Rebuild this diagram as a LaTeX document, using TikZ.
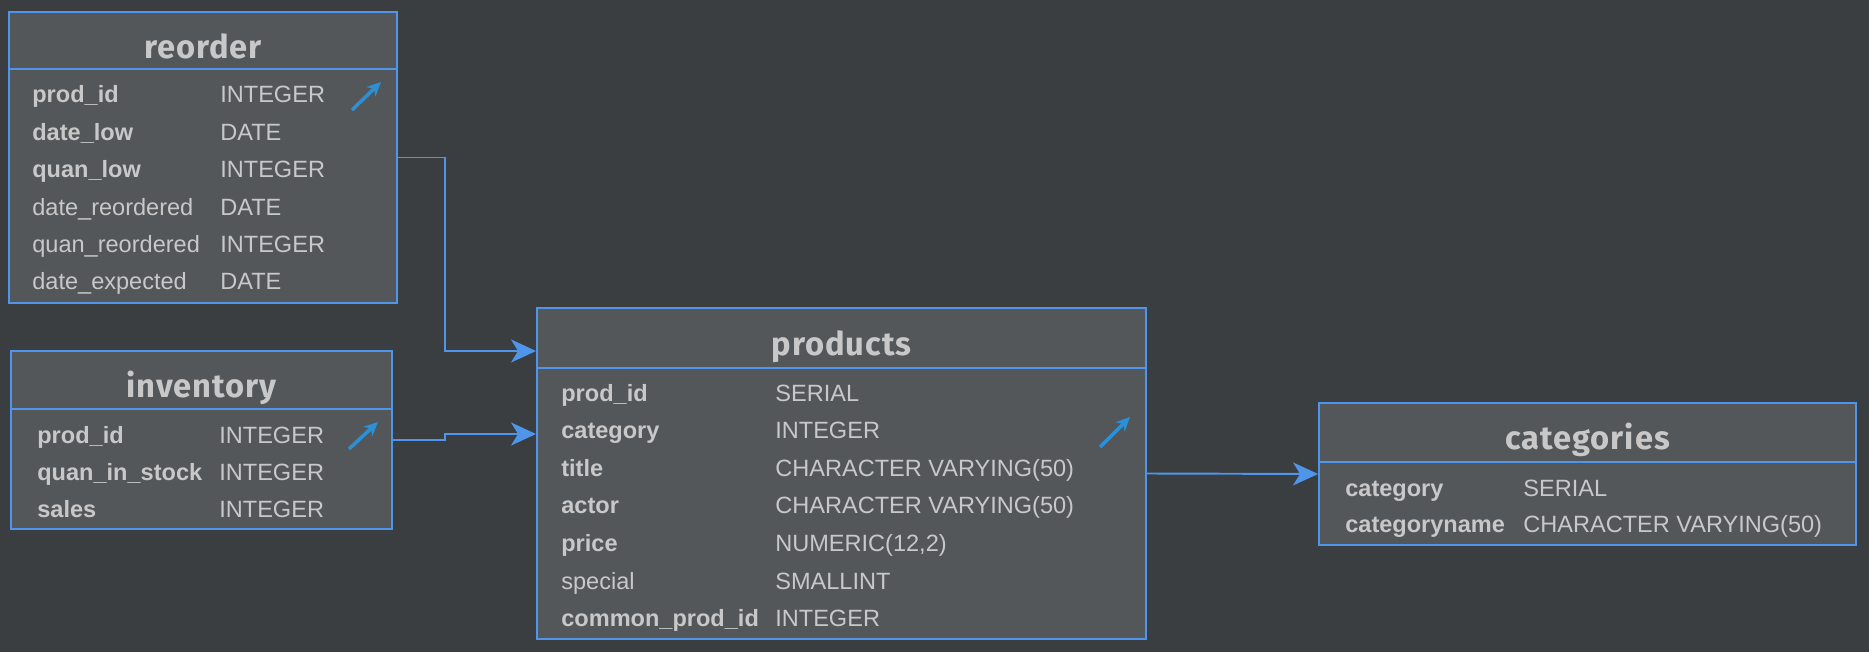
\documentclass[tikz,border=0pt]{standalone}
\usepackage{fontspec}
\setmainfont{Liberation Sans}
\newfontfamily\titlefont[LetterSpace=3]{Fira Sans}
\usepackage{tikz}
\usepackage{xcolor}
\usetikzlibrary{arrows.meta, positioning, fit, calc}

\definecolor{bgcol}{RGB}{59,62,65}
\definecolor{boxfill}{RGB}{83,87,90}
\definecolor{edgeblue}{RGB}{79,149,234}
\definecolor{txtcol}{RGB}{200,200,200}
\definecolor{iconblue}{RGB}{43,144,214}
\newcommand{\fieldfont}{\fontsize{13.4}{16}\selectfont}

\begin{document}
\begin{tikzpicture}[
    x=0.02cm, y=-0.02cm,
    tablebox/.style={rectangle, draw=edgeblue, fill=boxfill, line width=1.1pt, inner sep=0pt},
    headline/.style={draw=edgeblue, line width=1.1pt},
    ttitle/.style={anchor=base, inner sep=0pt, text=txtcol, font=\titlefont\bfseries\fontsize{18.6}{22}\selectfont},
    fname/.style={anchor=base west, inner sep=0pt, text=txtcol, font=\fieldfont\bfseries},
    fplain/.style={anchor=base west, inner sep=0pt, text=txtcol, font=\fieldfont},
    ftype/.style={anchor=base west, inner sep=0pt, text=txtcol, font=\fieldfont},
    fkicon/.style={draw=iconblue, line width=2pt, -{Stealth[length=0.28cm, width=0.26cm]}},
    fk/.style={draw=edgeblue, line width=1.1pt, -{Stealth[length=0.5cm, width=0.46cm, inset=0.14cm]}}
]

% Background
\fill[bgcol] (0,0) rectangle (1869,652);
\useasboundingbox (0,0) rectangle (1869,652);

% reorder
\node[tablebox, fit={(9,12) (397,303)}] (reorder) {};
\draw[headline] ($(reorder.north west)+(0,58)$) -- ($(reorder.north east)+(0,58)$);
\node[ttitle] (reorder-title) at ($(reorder.north)+(0,47)$) {reorder};
\node[fname] (ro-n1) at (32,103) {prod\_id};
\node[ftype] (ro-t1) at (220,103) {INTEGER};
\node[fname] (ro-n2) at (32,140) {date\_low};
\node[ftype] (ro-t2) at (220,140) {DATE};
\node[fname] (ro-n3) at (32,177) {quan\_low};
\node[ftype] (ro-t3) at (220,177) {INTEGER};
\node[fplain] (ro-n4) at (32,215) {date\_reordered};
\node[ftype] (ro-t4) at (220,215) {DATE};
\node[fplain] (ro-n5) at (32,252) {quan\_reordered};
\node[ftype] (ro-t5) at (220,252) {INTEGER};
\node[fplain] (ro-n6) at (32,289) {date\_expected};
\node[ftype] (ro-t6) at (220,289) {DATE};
\draw[fkicon] (352,110) -- (381,82);

% inventory
\node[tablebox, fit={(11,351) (392,529)}] (inventory) {};
\draw[headline] ($(inventory.north west)+(0,59)$) -- ($(inventory.north east)+(0,59)$);
\node[ttitle] (inventory-title) at ($(inventory.north)+(0,47)$) {inventory};
\node[fname] (in-n1) at (37,443) {prod\_id};
\node[ftype] (in-t1) at (219,443) {INTEGER};
\node[fname] (in-n2) at (37,480) {quan\_in\_stock};
\node[ftype] (in-t2) at (219,480) {INTEGER};
\node[fname] (in-n3) at (37,517) {sales};
\node[ftype] (in-t3) at (219,517) {INTEGER};
\draw[fkicon] (349,449) -- (378,422);

% products
\node[tablebox, fit={(537,308) (1146,639)}] (products) {};
\draw[headline] ($(products.north west)+(0,61)$) -- ($(products.north east)+(0,61)$);
\node[ttitle] (products-title) at ($(products.north)+(0,48)$) {products};
\node[fname] (pr-n1) at (561,401) {prod\_id};
\node[ftype] (pr-t1) at (775,401) {SERIAL};
\node[fname] (pr-n2) at (561,438.6) {category};
\node[ftype] (pr-t2) at (775,438.6) {INTEGER};
\node[fname] (pr-n3) at (561,476.2) {title};
\node[ftype] (pr-t3) at (775,476.2) {CHARACTER VARYING(50)};
\node[fname] (pr-n4) at (561,513.8) {actor};
\node[ftype] (pr-t4) at (775,513.8) {CHARACTER VARYING(50)};
\node[fname] (pr-n5) at (561,551.4) {price};
\node[ftype] (pr-t5) at (775,551.4) {NUMERIC(12,2)};
\node[fplain] (pr-n6) at (561,589) {special};
\node[ftype] (pr-t6) at (775,589) {SMALLINT};
\node[fname] (pr-n7) at (561,626.6) {common\_prod\_id};
\node[ftype] (pr-t7) at (775,626.6) {INTEGER};
\draw[fkicon] (1100,447) -- (1130,417);

% categories
\node[tablebox, fit={(1319,403) (1856,545)}] (categories) {};
\draw[headline] ($(categories.north west)+(0,60)$) -- ($(categories.north east)+(0,60)$);
\node[ttitle] (categories-title) at ($(categories.north)+(0,47)$) {categories};
\node[fname] (ca-n1) at (1345,496) {category};
\node[ftype] (ca-t1) at (1523,496) {SERIAL};
\node[fname] (ca-n2) at (1345,532) {categoryname};
\node[ftype] (ca-t2) at (1523,532) {CHARACTER VARYING(50)};

% Foreign keys
\coordinate (prod-in1) at (products.west |- 0,351);
\coordinate (prod-in2) at (products.west |- 0,434);
\draw[fk] (reorder.east) -- ++(47,0) |- (prod-in1);
\draw[fk] (inventory.east) -- ++(52,0) |- (prod-in2);
\draw[fk] (products.east) -- (categories.west);

\end{tikzpicture}
\end{document}
